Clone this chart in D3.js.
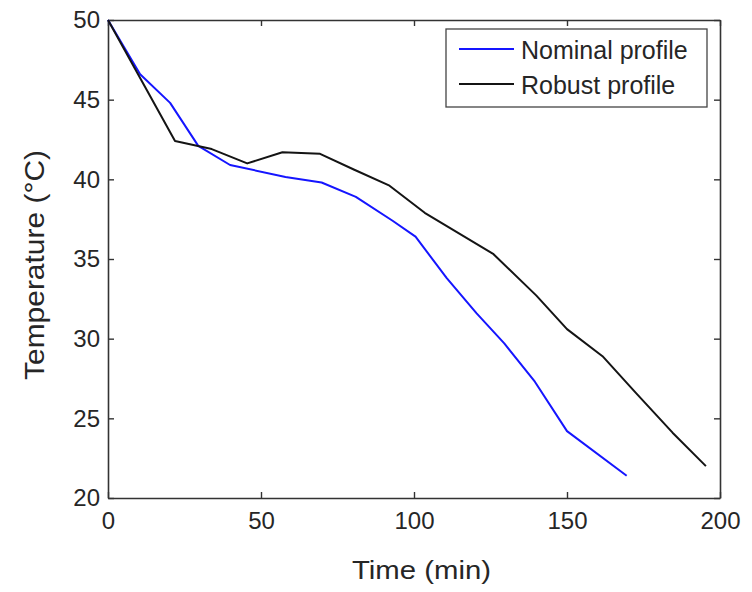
<!DOCTYPE html>
<html>
<head>
<meta charset="utf-8">
<script src="https://cdn.jsdelivr.net/npm/d3@7"></script>
<style>
  body { margin: 0; background: #fff; }
  text { font-family: "Liberation Sans", Arial, Helvetica, sans-serif; fill: #262626; }
</style>
</head>
<body>
<div id="chart"></div>
<script>
// time (min), temperature (°C)
const nominalTime = [0, 10.5, 20.3, 29.5, 39.9, 58, 69.8, 81, 93, 100.5, 110.7, 120.4, 129.5, 139.5, 150, 169.5];
const nominalTemp = [50, 46.6, 44.8, 42.1, 40.9, 40.15, 39.8, 38.9, 37.4, 36.4, 33.8, 31.6, 29.7, 27.3, 24.2, 21.4];

const robustTime = [0, 21.9, 33.9, 45.5, 57, 69.3, 80.5, 92, 103.5, 109.5, 126, 140, 150, 161.6, 172.5, 184.5, 195.4];
const robustTemp = [50, 42.4, 41.9, 41.0, 41.7, 41.6, 40.6, 39.6, 37.9, 37.2, 35.3, 32.7, 30.6, 28.9, 26.6, 24.1, 22.0];

const xTicks = [0, 50, 100, 150, 200];
const yTicks = [20, 25, 30, 35, 40, 45, 50];
const seriesNames = ['Nominal profile', 'Robust profile'];
const seriesColors = ['#1515ff', '#141414'];

const width = 752;
const height = 592;
const margin = { top: 20, right: 32, bottom: 94, left: 108 };
const innerW = width - margin.left - margin.right;
const innerH = height - margin.top - margin.bottom;

const svg = d3.select('#chart').append('svg')
  .attr('width', width)
  .attr('height', height);

const g = svg.append('g')
  .attr('transform', `translate(${margin.left},${margin.top})`);

const x = d3.scaleLinear().domain([0, 200]).range([0, innerW]);
const y = d3.scaleLinear().domain([20, 50]).range([innerH, 0]);

// axes with inward ticks, mirrored on top/right
const axisColor = '#333';
const tickLen = 6;

g.append('g')
  .attr('transform', `translate(0,${innerH})`)
  .call(d3.axisBottom(x).tickValues(xTicks).tickSizeInner(-tickLen).tickSizeOuter(0).tickPadding(14))
  .call(a => a.selectAll('text').attr('font-size', 24).attr('dy', '0.71em'));

g.append('g')
  .call(d3.axisLeft(y).tickValues(yTicks).tickSizeInner(-tickLen).tickSizeOuter(0).tickPadding(8))
  .call(a => a.selectAll('text').attr('font-size', 24));

g.append('g')
  .call(d3.axisTop(x).tickValues(xTicks).tickSizeInner(-tickLen).tickSizeOuter(0).tickFormat(''));

g.append('g')
  .attr('transform', `translate(${innerW},0)`)
  .call(d3.axisRight(y).tickValues(yTicks).tickSizeInner(-tickLen).tickSizeOuter(0).tickFormat(''));

g.selectAll('.domain').attr('stroke', axisColor).attr('stroke-width', 1.6);
g.selectAll('.tick line').attr('stroke', axisColor).attr('stroke-width', 1.4);
g.selectAll('.tick text').attr('fill', '#262626').attr('font-family', '"Liberation Sans", Arial, sans-serif');

// lines
const line = d3.line()
  .x(d => x(d[0]))
  .y(d => y(d[1]));

const series = [
  d3.zip(nominalTime, nominalTemp),
  d3.zip(robustTime, robustTemp)
];

g.selectAll('.series')
  .data(series)
  .enter()
  .append('path')
    .attr('class', 'series')
    .attr('d', line)
    .attr('fill', 'none')
    .attr('stroke', (d, i) => seriesColors[i])
    .attr('stroke-width', 2)
    .attr('stroke-linejoin', 'round');

// axis labels
svg.append('text')
  .attr('x', 352)
  .attr('y', 579)
  .attr('font-size', 26)
  .attr('textLength', 139)
  .attr('lengthAdjust', 'spacingAndGlyphs')
  .text('Time (min)');

svg.append('text')
  .attr('transform', 'translate(44,380) rotate(-90)')
  .attr('font-size', 28)
  .attr('textLength', 230)
  .attr('lengthAdjust', 'spacingAndGlyphs')
  .text('Temperature (°C)');

// legend
const legend = svg.append('g');
legend.append('rect')
  .attr('x', 446)
  .attr('y', 29)
  .attr('width', 261)
  .attr('height', 78)
  .attr('fill', '#fff')
  .attr('stroke', '#444')
  .attr('stroke-width', 1.3);

seriesNames.forEach((name, i) => {
  const ly = 49 + i * 35;
  legend.append('line')
    .attr('x1', 459).attr('x2', 514)
    .attr('y1', ly).attr('y2', ly)
    .attr('stroke', seriesColors[i])
    .attr('stroke-width', 2);
  legend.append('text')
    .attr('x', 521)
    .attr('y', ly + 10)
    .attr('font-size', 25)
    .text(name);
});
</script>
</body>
</html>
